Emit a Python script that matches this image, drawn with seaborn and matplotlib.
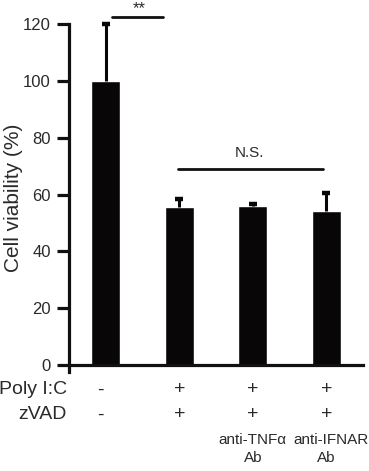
import numpy as np
import pandas as pd
import matplotlib
matplotlib.use("Agg")
import matplotlib.pyplot as plt
import seaborn as sns

# data
grupos = ["ctrl", "pic_zvad", "pic_zvad_tnf", "pic_zvad_ifnar"]
viabilidad = [100.0, 55.7, 56.0, 54.3]
error_sd = [20.0, 2.6, 0.7, 6.4]
poly_ic = ["-", "+", "+", "+"]
zvad = ["-", "+", "+", "+"]
anticuerpo = ["", "", "anti-TNF\u03b1", "anti-IFNAR"]
anticuerpo_2 = ["", "", "Ab", "Ab"]
yticks = [0, 20, 40, 60, 80, 100, 120]

sns.set_style("white")
plt.rcParams["font.family"] = ["Liberation Sans", "DejaVu Sans"]
color_txt = "#2a2a2a"
negro = "#080606"

df = pd.DataFrame({"grupo": grupos, "viabilidad": viabilidad})

fig = plt.figure(figsize=(3.69, 4.71), dpi=100)
ax = fig.add_axes([0.187, 0.210, 0.797, 0.739])

sns.barplot(data=df, x="grupo", y="viabilidad", color=negro,
            width=0.39, errorbar=None, ax=ax, saturation=1)

# one-sided error bars (only upwards)
x = np.arange(len(grupos))
tops = np.array(viabilidad) + np.array(error_sd)
ax.vlines(x, viabilidad, tops, color=negro, lw=2.2, zorder=3)
ax.plot(x, tops, ls="none", marker="_", ms=6, mew=3.2, color=negro, zorder=3,
        clip_on=False)

ax.set_xlim(-0.5, 3.5)
ax.set_ylim(-2.5, 120)
ax.set_yticks(yticks)
ax.set_yticklabels([str(t) for t in yticks], fontsize=12, color=color_txt)
ax.set_xticks([])
ax.set_xlabel("")
ax.set_ylabel("Cell viability (%)", fontsize=15, color=color_txt, labelpad=0)

for s in ["top", "right"]:
    ax.spines[s].set_visible(False)
ax.spines["left"].set_linewidth(2.3)
ax.spines["bottom"].set_linewidth(2.3)
ax.spines["bottom"].set_position(("data", 0))
ax.spines["left"].set_color("#111111")
ax.spines["bottom"].set_color("#111111")
ax.tick_params(axis="y", direction="out", length=9, width=2.3, color="#111111",
               left=True, pad=4)

# significance marks
ax.plot([0.08, 0.78], [122.5, 122.5], color="#111111", lw=2.0, clip_on=False)
ax.text(0.45, 128.2, "**", ha="center", va="top", fontsize=12, color=color_txt,
        clip_on=False)
ax.plot([0.98, 2.95], [69, 69], color="#111111", lw=2.0)
ax.text(1.96, 72, "N.S.", ha="center", va="bottom", fontsize=11, color=color_txt)

# treatment table under the axis
for i in range(len(grupos)):
    dx = -0.08 if poly_ic[i] == "-" else 0
    ax.text(i + dx, -8.8, poly_ic[i], ha="center", va="center", fontsize=14,
            color=color_txt)
    dx = -0.08 if zvad[i] == "-" else 0
    ax.text(i + dx, -17.6, zvad[i], ha="center", va="center", fontsize=14,
            color=color_txt)
    if anticuerpo[i]:
        dx = 0.07 if i == 3 else 0
        ax.text(i + dx, -26.4, anticuerpo[i], ha="center", va="center", fontsize=11,
                color=color_txt)
        ax.text(i, -32.8, anticuerpo_2[i], ha="center", va="center", fontsize=11,
                color=color_txt)
ax.text(-0.53, -8.8, "Poly I:C", ha="right", va="center", fontsize=14, color=color_txt,
        clip_on=False)
ax.text(-0.53, -17.6, "zVAD", ha="right", va="center", fontsize=14, color=color_txt,
        clip_on=False)

fig.savefig("out.png", dpi=100)
